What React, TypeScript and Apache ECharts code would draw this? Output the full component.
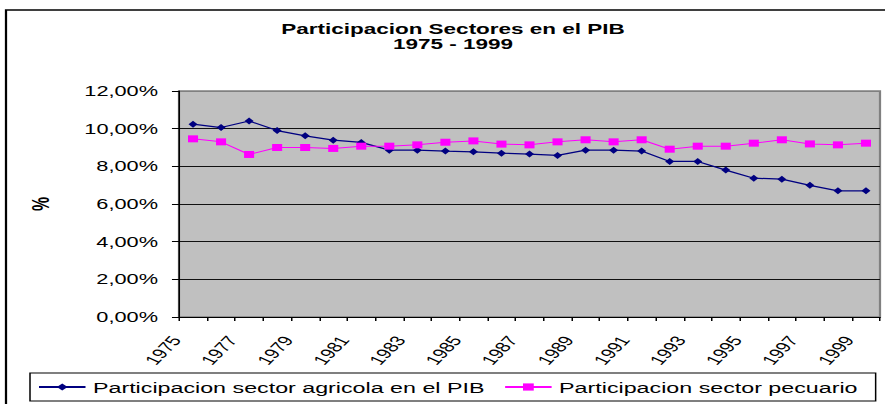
import React, { useEffect, useRef } from "react";
import * as echarts from "echarts";

const years = [
  "1975", "1976", "1977", "1978", "1979", "1980", "1981", "1982", "1983",
  "1984", "1985", "1986", "1987", "1988", "1989", "1990", "1991", "1992",
  "1993", "1994", "1995", "1996", "1997", "1998", "1999",
];
const agricola = [
  10.24, 10.06, 10.41, 9.9, 9.62, 9.39, 9.27, 8.86, 8.86, 8.81, 8.77, 8.7,
  8.65, 8.58, 8.86, 8.86, 8.81, 8.26, 8.26, 7.8, 7.37, 7.32, 6.99, 6.7, 6.7,
];
const pecuario = [
  9.46, 9.3, 8.63, 9.0, 9.0, 8.95, 9.07, 9.07, 9.14, 9.28, 9.35, 9.18, 9.14,
  9.3, 9.41, 9.3, 9.41, 8.91, 9.07, 9.07, 9.23, 9.41, 9.19, 9.14, 9.23,
];
const seriesNames = [
  "Participacion sector agricola en el PIB",
  "Participacion sector pecuario",
];
const titleLines = ["Participacion Sectores en el PIB", "1975 - 1999"];
const yTicks = { min: 0, max: 12, interval: 2 };

const FONT = "'Liberation Sans', Arial, Helvetica, sans-serif";
const SX = 1.5;

export default function App() {
  const ref = useRef<HTMLDivElement>(null);
  useEffect(() => {
    if (!ref.current) return;
    const chart = echarts.init(ref.current, null, { renderer: "svg" });
    const titleStyle = {
      fontFamily: FONT,
      fontSize: 15,
      fontWeight: "bold",
      fill: "#000",
      align: "center",
      verticalAlign: "middle",
    };
    chart.setOption({
      animation: false,
      backgroundColor: "#ffffff",
      textStyle: { fontFamily: FONT },
      graphic: [
        {
          type: "rect",
          shape: { x: 4, y: 10, width: 700, height: 500 },
          style: { fill: "none", stroke: "#000", lineWidth: 1.5 },
          silent: true,
        },
        {
          type: "text",
          x: 302,
          y: 28.5,
          style: { ...titleStyle, text: titleLines[0] },
        },
        {
          type: "text",
          x: 302,
          y: 43.5,
          style: { ...titleStyle, text: titleLines[1] },
        },
      ],
      grid: {
        left: 179 / SX,
        right: 590 - 880 / SX,
        top: 91,
        bottom: 404 - 317,
        show: true,
        backgroundColor: "#C0C0C0",
        borderColor: "#808080",
        borderWidth: 1.5,
      },
      legend: {
        left: 20,
        top: 373,
        orient: "horizontal",
        itemWidth: 31,
        itemHeight: 9,
        itemGap: 12.7,
        padding: [6, 12, 6, 5],
        borderColor: "#000",
        borderWidth: 1,
        textStyle: { fontFamily: FONT, fontSize: 15.5, color: "#000" },
        data: seriesNames,
      },
      xAxis: {
        type: "category",
        data: years,
        boundaryGap: true,
        axisLine: { show: true, lineStyle: { color: "#000", width: 1 } },
        axisTick: {
          show: true,
          interval: 0,
          length: 4,
          alignWithLabel: false,
          lineStyle: { color: "#000" },
        },
        axisLabel: {
          interval: 1,
          rotate: 56,
          margin: 4,
          padding: [0, 20, 0, 0],
          fontFamily: FONT,
          fontSize: 14,
          color: "#000",
        },
        splitLine: { show: false },
      },
      yAxis: {
        type: "value",
        min: yTicks.min,
        max: yTicks.max,
        interval: yTicks.interval,
        name: "%",
        nameLocation: "middle",
        nameRotate: 90,
        nameGap: 84,
        nameTextStyle: {
          fontFamily: FONT,
          fontSize: 16,
          fontWeight: "bold",
          color: "#000",
        },
        axisLine: { show: true, lineStyle: { color: "#000", width: 1 } },
        axisTick: { show: true, length: 4.7, lineStyle: { color: "#000" } },
        axisLabel: {
          margin: 14,
          fontFamily: FONT,
          fontSize: 14.5,
          color: "#000",
          formatter: (v: number) => v.toFixed(2).replace(".", ",") + "%",
        },
        splitLine: {
          show: true,
          lineStyle: {
            color: ["#000", "#111", "#111", "#111", "#111", "#111", "#808080"],
            width: 1,
          },
        },
      },
      series: [
        {
          name: seriesNames[0],
          type: "line",
          data: agricola,
          symbol: "diamond",
          symbolSize: [6, 7],
          showAllSymbol: true,
          lineStyle: { color: "#000080", width: 1.2 },
          itemStyle: { color: "#000080" },
        },
        {
          name: seriesNames[1],
          type: "line",
          data: pecuario,
          symbol: "rect",
          symbolSize: [6.7, 7],
          showAllSymbol: true,
          lineStyle: { color: "#FF00FF", width: 1 },
          itemStyle: { color: "#FF00FF" },
        },
      ],
    });
    return () => chart.dispose();
  }, []);
  return (
    <div
      style={{
        position: "absolute",
        left: 0,
        top: 0,
        width: 885,
        height: 404,
        overflow: "hidden",
        background: "#fff",
      }}
    >
      <div
        ref={ref}
        style={{
          width: 590,
          height: 404,
          transform: `scaleX(${SX})`,
          transformOrigin: "0 0",
        }}
      />
    </div>
  );
}
